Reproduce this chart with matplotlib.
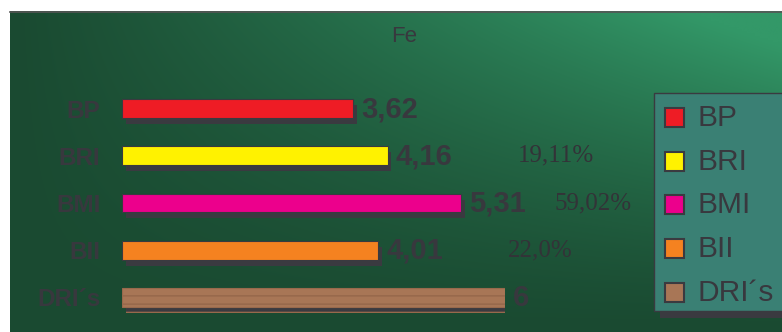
import numpy as np
import matplotlib.pyplot as plt
import matplotlib.patches as patches
import matplotlib.patheffects as pe

plt.rcParams['font.family'] = ['Liberation Sans', 'DejaVu Sans']

# datos
categorias = ["BP", "BRI", "BMI", "BII", "DRI´s"]
valores = [3.62, 4.16, 5.31, 4.01, 6]
etiquetas = ["3,62", "4,16", "5,31", "4,01", "6"]
porcentajes = ["", "19,11%", "59,02%", "22,0%", ""]
pct_x = [0, 6.2, 6.77, 6.05, 0]
colores = ["#ee1c25", "#fff200", "#ec008c", "#f58220", "#a87656"]

GRIS = "#38383e"
SOMBRA = "#3a3a40"

fig = plt.figure(figsize=(7.82, 3.32), dpi=100)

# fondo degradado verde (pixeles)
bg = fig.add_axes([0, 0, 1, 1])
bg.set_xlim(0, 782)
bg.set_ylim(332, 0)
bg.axis('off')
gx = np.linspace(0, 1, 300)
gy = np.linspace(0, 1, 150)
X, Y = np.meshgrid(gx, gy)
t = np.clip(X ** 1.1 * (1 - Y) ** 1.3 * 1.15, 0, 1)
oscuro = np.array([0x1a, 0x4a, 0x31]) / 255
claro = np.array([0x33, 0x98, 0x68]) / 255
img = oscuro[None, None, :] * (1 - t[..., None]) + claro[None, None, :] * t[..., None]
bg.imshow(img, extent=(10, 782, 332, 11), aspect='auto', interpolation='bilinear')
bg.plot([10, 782], [11.5, 11.5], color="#555555", lw=1.2)
bg.text(404, 37, "Fe", fontsize=16, color=GRIS, ha='center', va='center')

# leyenda manual
caja = patches.Rectangle((654, 93), 140, 218, facecolor="#3a8074", edgecolor=SOMBRA, lw=1)
caja.set_path_effects([pe.SimplePatchShadow(offset=(4, -5), shadow_rgbFace=SOMBRA, alpha=1), pe.Normal()])
bg.add_patch(caja)
for i, (nom, col) in enumerate(zip(categorias, colores)):
    cy = 117 + i * 43.7
    cuad = patches.Rectangle((665, cy - 9), 19, 19, facecolor=col, edgecolor=SOMBRA, lw=1.5)
    bg.add_patch(cuad)
    bg.text(697, cy + 1, nom, fontsize=21.5, color=GRIS, va='center', ha='left')

# barras
ax = fig.add_axes([122 / 782, 1 - 321 / 332, 383 / 782, 236 / 332])
ax.set_facecolor('none')
ax.set_xlim(0, 6)
ax.set_ylim(4.5, -0.5)
ypos = np.arange(len(categorias))
plt.rcParams['hatch.linewidth'] = 1.2
barras = ax.barh(ypos, valores, height=0.4, color=colores, edgecolor=SOMBRA, lw=0.8)
barras[-1].set_hatch('--')
barras[-1].set_edgecolor("#98694c")
for b in barras:
    b.set_path_effects([pe.SimplePatchShadow(offset=(2.8, -4.3), shadow_rgbFace=SOMBRA, alpha=1), pe.Normal()])

for y, v, et in zip(ypos, valores, etiquetas):
    ax.annotate(et, (v, y), xytext=(6, -0.5), textcoords='offset points',
                fontsize=21, fontweight='bold', color=GRIS, va='center', ha='left',
                annotation_clip=False)

for y, p, px in zip(ypos, porcentajes, pct_x):
    if p:
        ax.text(px, y, p, fontsize=18, family='Liberation Serif', color="#333338",
                va='center', ha='left', clip_on=False)

ax.set_yticks(ypos)
ax.set_yticklabels(categorias, fontsize=17.5, fontweight='bold', color=GRIS)
ax.tick_params(axis='y', length=0, pad=15.5)
ax.set_xticks([])
for s in ax.spines.values():
    s.set_visible(False)

fig.savefig("out.png", dpi=100)
